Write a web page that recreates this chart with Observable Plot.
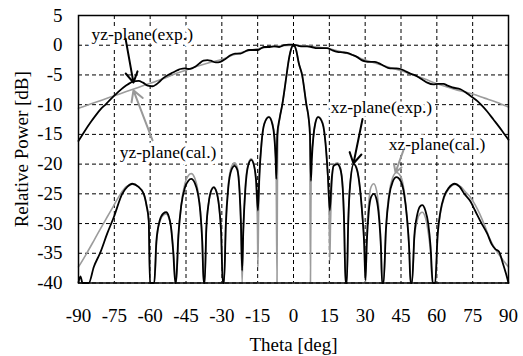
<!DOCTYPE html>
<html>
<head>
<meta charset="utf-8">
<script src="https://cdn.jsdelivr.net/npm/d3@7"></script>
<script src="https://cdn.jsdelivr.net/npm/@observablehq/plot@0.6"></script>
<style>
  html, body { margin: 0; padding: 0; background: #fff; }
</style>
</head>
<body>
<div id="chart"></div>
<script>
// Tick values
const thetaTicks = [-90, -75, -60, -45, -30, -15, 0, 15, 30, 45, 60, 75, 90];
const dbTicks = [-40, -35, -30, -25, -20, -15, -10, -5, 0, 5];

// yz-plane measured [theta deg, dB]
const yzExp = [
  [-90,-16.1],[-87.5,-14.5],[-85,-13],[-82.8,-11.8],[-80.8,-10.8],[-78.5,-9.9],[-76.6,-9.1],[-74,-8.1],
  [-71.2,-7.1],[-69,-6.5],[-67,-6.1],[-64.9,-6.0],[-63,-6.3],[-61,-6.8],[-59,-6.9],[-57.5,-6.6],[-56,-6.1],
  [-54.4,-5.5],[-52.5,-5.0],[-50.5,-4.6],[-48.5,-4.2],[-47.3,-4.0],[-45.5,-3.9],[-44,-4.0],[-42.5,-3.9],
  [-41,-3.6],[-39.5,-3.1],[-37.7,-2.6],[-36,-2.5],[-34.7,-2.6],[-32.5,-2.9],[-30.6,-2.8],[-28.5,-2.3],
  [-26.4,-1.7],[-24.5,-1.4],[-22.2,-1.4],[-20.5,-1.1],[-18.7,-0.8],[-16.8,-0.8],[-15,-0.8],[-13.5,-0.5],
  [-12.4,-0.3],[-10,-0.3],[-8.2,-0.2],[-6,-0.3],[-4,0],[-2,0.1],[0,0.1],[2,-0.1],[4,-0.2],[5.7,-0.2],
  [7.5,-0.3],[9.9,-0.5],[12,-0.5],[14.1,-0.5],[16,-0.8],[18.3,-1.1],[20.5,-1.2],[22.5,-1.3],[24.5,-1.6],
  [26.7,-2.0],[28.5,-2.5],[30,-2.7],[32.2,-2.8],[34,-2.8],[35.6,-3.0],[37.5,-3.4],[39.5,-3.8],[41.4,-3.9],
  [43,-3.9],[44.8,-4.0],[46.5,-4.3],[48.5,-4.7],[50.5,-5.0],[52,-5.3],[54,-5.8],[56,-6.3],[58.6,-6.6],
  [60.5,-6.5],[62.8,-6.5],[64.5,-6.8],[66.5,-7.1],[69.9,-7.4],[72,-7.9],[74,-8.5],[77,-9.4],[79,-10.2],
  [81,-11.1],[83.7,-12.5],[86,-13.7],[88,-14.8],[90,-15.9]
];

// yz-plane calculated
const yzCal = [
  [-90,-10.6],[-85,-9.9],[-80,-9.2],[-75,-8.5],[-70,-7.8],[-65,-7.1],[-60,-6.4],[-55,-5.7],[-50,-4.9],
  [-45,-4.2],[-40,-3.5],[-35,-2.9],[-30,-2.4],[-25,-1.6],[-20,-1.0],[-15,-0.6],[-10,-0.3],[-5,-0.1],[0,0],
  [5,-0.1],[10,-0.3],[15,-0.6],[20,-1.1],[25,-1.7],[30,-2.5],[35,-3.1],[40,-3.7],[45,-4.3],[50,-5.0],
  [55,-5.7],[60,-6.5],[65,-7.1],[70,-7.7],[75,-8.2],[80,-8.9],[85,-9.6],[90,-10.4]
];

// xz-plane measured
const xzExp = [
  [-90,-39.9],[-89.2,-38.9],[-88.3,-40],[-85.7,-40],[-83.6,-37.3],[-80.8,-34.8],[-78,-31.7],[-75.2,-28.9],
  [-71.7,-25],[-69.5,-23.8],[-67.5,-23.3],[-65,-23.8],[-62.7,-25],[-61.5,-27],[-60.6,-29.5],[-60.1,-40],
  [-58.3,-40],[-57.4,-33],[-56,-29.5],[-54.5,-28.3],[-53.3,-28.1],[-52.2,-28.8],[-51.3,-30.5],[-50.3,-35],[-49.5,-40],
  [-49.2,-40],[-48.2,-32],[-47,-27],[-45.5,-24],[-44,-22.8],[-42.8,-22.5],[-41.3,-23.2],[-40,-25],[-39,-28],[-38.2,-33],[-37.6,-40],
  [-37.2,-40],[-36.5,-31],[-35.5,-26.5],[-34.4,-24.4],[-33.4,-23.9],[-32.3,-24.6],[-31.2,-27],[-30.3,-31.5],[-29.6,-40],
  [-29.1,-40],[-28.3,-30],[-27.3,-24],[-26,-21],[-24.7,-20.3],[-23.5,-21],[-22.6,-24.5],[-22,-30],[-21.5,-37.9],
  [-21,-31],[-20.2,-24.5],[-19,-20.3],[-17.7,-19.3],[-16.5,-20.3],[-15.6,-23],[-14.9,-27.8],
  [-14.3,-22],[-13.4,-16.5],[-12.2,-13.2],[-10.3,-12.1],[-8.9,-13.2],[-8,-15.5],[-7.5,-19],[-7.2,-22.5],
  [-6.8,-15],[-5.8,-12.3],[-4.7,-10],[-2.9,-5],[-2.2,-3],[-1.1,-0.8],[0,0],[1.1,-0.8],[2.2,-3],[3.6,-5],
  [5.4,-10],[6.4,-12.5],[6.9,-15],
  [7.3,-22.8],[7.7,-19],[8.3,-15.5],[9.1,-13.2],[10.3,-12.1],[12.2,-13.2],[13.4,-16.5],[14.4,-22],[15.2,-27.8],
  [15.9,-23],[16.8,-20.3],[18.3,-20],[19.6,-20.8],[20.6,-24],[21.2,-30],[21.8,-40],
  [22.3,-40],[22.9,-30],[23.7,-23.5],[25.2,-20],[26.6,-21],[27.8,-24],[28.8,-28.5],[29.6,-33.5],[30.1,-39.5],
  [30.7,-33],[31.5,-28],[32.5,-25.5],[33.6,-25],[34.8,-26],[35.8,-29],[36.6,-34],[37.1,-40],
  [37.7,-40],[38.7,-31],[40,-25.5],[41.5,-23],[43.1,-22.2],[44.8,-22.8],[46.3,-25],[47.5,-29],[48.4,-34],[49,-40],
  [49.6,-40],[50.6,-32],[51.8,-28.5],[53,-27.1],[53.9,-26.9],[55.2,-27.8],[56.4,-30],[57.4,-34],[58.3,-40],
  [59.3,-40],[60.3,-32],[61.5,-28],[63,-25.5],[65,-24],[67.5,-23.3],[69.5,-23.8],[71.5,-25],[74.1,-26.3],
  [76,-27.8],[78.5,-29.8],[81.1,-31.7],[83,-33.5],[84.5,-34.3],[86,-34.7],[87.5,-36.5],[89,-38.5],[90,-40]
];

// xz-plane calculated
const xzCal = [
  [-90,-37.3],[-87,-35.3],[-83.6,-32.9],[-80,-30.3],[-78,-28.9],[-75,-26.8],[-72.4,-25],[-70,-23.8],
  [-67.5,-23.4],[-65,-23.8],[-62.7,-25],[-61.5,-27],[-60.6,-29.5],[-60,-40],
  [-58.2,-40],[-57.3,-33],[-56,-29.7],[-54.5,-28.6],[-53.3,-28.4],[-52.2,-29],[-51.2,-30.8],[-50.2,-35],[-49.3,-40],
  [-49.1,-40],[-48.1,-32],[-46.9,-26.5],[-45.4,-23.2],[-44,-21.9],[-42.8,-21.6],[-41.3,-22.4],[-40,-24.5],[-39,-28],[-38.2,-33],[-37.6,-40],
  [-37.2,-40],[-36.5,-31],[-35.5,-26.5],[-34.4,-24.4],[-33.4,-23.8],[-32.3,-24.5],[-31.2,-27],[-30.3,-31.5],[-29.6,-40],
  [-29.1,-40],[-28.3,-29.5],[-27.3,-23.5],[-26,-20.5],[-24.7,-19.8],[-23.5,-20.6],[-22.6,-24],[-22,-30],[-21.5,-40],
  [-21,-31],[-20.2,-24],[-19,-20],[-17.7,-19.1],[-16.5,-20.2],[-15.6,-24],[-15.1,-30],[-14.9,-37.3],
  [-14.6,-28],[-14.1,-21],[-13.3,-16.3],[-12.1,-13],[-10.3,-12],[-8.9,-13],[-8,-15.5],[-7.3,-20],[-6.9,-40],
  [-6.7,-20],[-6.5,-15],[-5.8,-12.3],[-4.7,-10],[-2.9,-5],[-2.2,-3],[-1.1,-0.8],[0,0],[1.1,-0.8],[2.2,-3],
  [3.6,-5],[5.4,-10],[6.4,-12.5],[6.8,-15],[7.1,-40],
  [7.4,-20],[8.3,-15.5],[9.1,-13],[10.3,-12],[12.2,-13],[13.4,-16.3],[14.2,-21],[14.9,-28],[15.2,-36.2],
  [15.5,-30],[16,-24],[16.8,-20.2],[18.3,-19.8],[19.6,-20.6],[20.6,-24],[21.2,-30],[21.7,-40],
  [22.3,-40],[22.9,-30],[23.7,-23.3],[25.2,-19.9],[26.6,-20.8],[27.8,-24],[28.8,-28.5],[29.6,-33.5],[30.2,-40],
  [30.7,-32],[31.5,-26.5],[32.5,-23.8],[33.6,-23.3],[34.8,-24.5],[35.8,-28],[36.6,-33.5],[37.1,-40],
  [37.7,-40],[38.7,-30.5],[40,-25],[41.5,-22.3],[43.1,-21.4],[44.8,-22],[46.3,-24.5],[47.5,-29],[48.4,-34],[49.1,-40],
  [49.6,-40],[50.6,-32.5],[51.8,-29.5],[53,-28.3],[53.9,-28.1],[55.2,-29],[56.4,-31.5],[57.4,-35],[58.1,-40],
  [59.4,-40],[60.4,-32],[61.6,-28],[63.2,-25.5],[65.3,-24],[68,-23.4],[70,-23.8],[72,-24.7],[74.1,-25.6],
  [76,-26.8],[78,-28.4],[80,-30.3],[82,-32.4],[84,-34],[86,-35.2],[88,-36.3],[90,-37.3]
];

// Annotations (data coordinates)
const noteText  = ["yz-plane(exp.)", "yz-plane(cal.)", "xz-plane(exp.)", "xz-plane(cal.)"];
const noteTheta = [-63.3, -52.5, 36.8, 60.1];
const noteDb    = [1.9, -18.1, -10.5, -16.6];
const arrowTheta1 = [-70.3, -59, 28.9, 46];
const arrowDb1    = [1.1, -16.0, -12.4, -17.7];
const arrowTheta2 = [-67, -67, 25.1, 42.7];
const arrowDb2    = [-6.3, -7.6, -19.9, -21.4];
const noteColor   = ["#000", "#999", "#000", "#999"];

const toRows = arr => arr.map(([t, v]) => ({t, v}));
const notes = noteText.map((s, i) => ({
  s, x: noteTheta[i], y: noteDb[i],
  x1: arrowTheta1[i], y1: arrowDb1[i], x2: arrowTheta2[i], y2: arrowDb2[i], c: noteColor[i]
}));

const GRAY = "#9c9c9c";

const chart = Plot.plot({
  width: 523,
  height: 356,
  marginLeft: 78,
  marginRight: 15,
  marginTop: 15,
  marginBottom: 73.5,
  style: {fontFamily: "'Liberation Serif', 'Times New Roman', serif", fontSize: "19px", background: "#fff", color: "#000"},
  x: {domain: [-90, 90]},
  y: {domain: [-40, 5]},
  marks: [
    Plot.gridX(thetaTicks, {stroke: "#000", strokeOpacity: 1, strokeWidth: 1, strokeDasharray: "4,3"}),
    Plot.gridY(dbTicks, {stroke: "#000", strokeOpacity: 1, strokeWidth: 1, strokeDasharray: "4,3"}),
    Plot.line(toRows(yzCal), {x: "t", y: "v", stroke: GRAY, strokeWidth: 1.6, curve: "monotone-x"}),
    Plot.line(toRows(xzCal), {x: "t", y: "v", stroke: GRAY, strokeWidth: 1.6, curve: "monotone-x"}),
    Plot.line(toRows(yzExp), {x: "t", y: "v", stroke: "#000", strokeWidth: 1.8, curve: "monotone-x"}),
    Plot.line(toRows(xzExp), {x: "t", y: "v", stroke: "#000", strokeWidth: 1.8, curve: "monotone-x"}),
    Plot.frame({stroke: "#000", strokeWidth: 1.5}),
    Plot.text(notes, {x: "x", y: "y", text: "s", fill: "#000", fontSize: 17.5,
      stroke: "#fff", strokeWidth: 7, paintOrder: "stroke", strokeLinejoin: "round"}),
    Plot.arrow(notes, {x1: "x1", y1: "y1", x2: "x2", y2: "y2", stroke: "c", strokeWidth: 2,
      headLength: 9, insetStart: 0, insetEnd: 0}),
    Plot.axisX({ticks: thetaTicks, tickSize: 0, tickPadding: 25, tickFormat: d => String(d),
      label: "Theta [deg]", labelAnchor: "center", labelArrow: "none", labelOffset: 68}),
    Plot.axisY({ticks: dbTicks, tickSize: 0, tickPadding: 16, tickFormat: d => String(d),
      label: "Relative Power [dB]", labelAnchor: "center", labelArrow: "none", labelOffset: 64})
  ]
});
document.getElementById("chart").appendChild(chart);
</script>
</body>
</html>
